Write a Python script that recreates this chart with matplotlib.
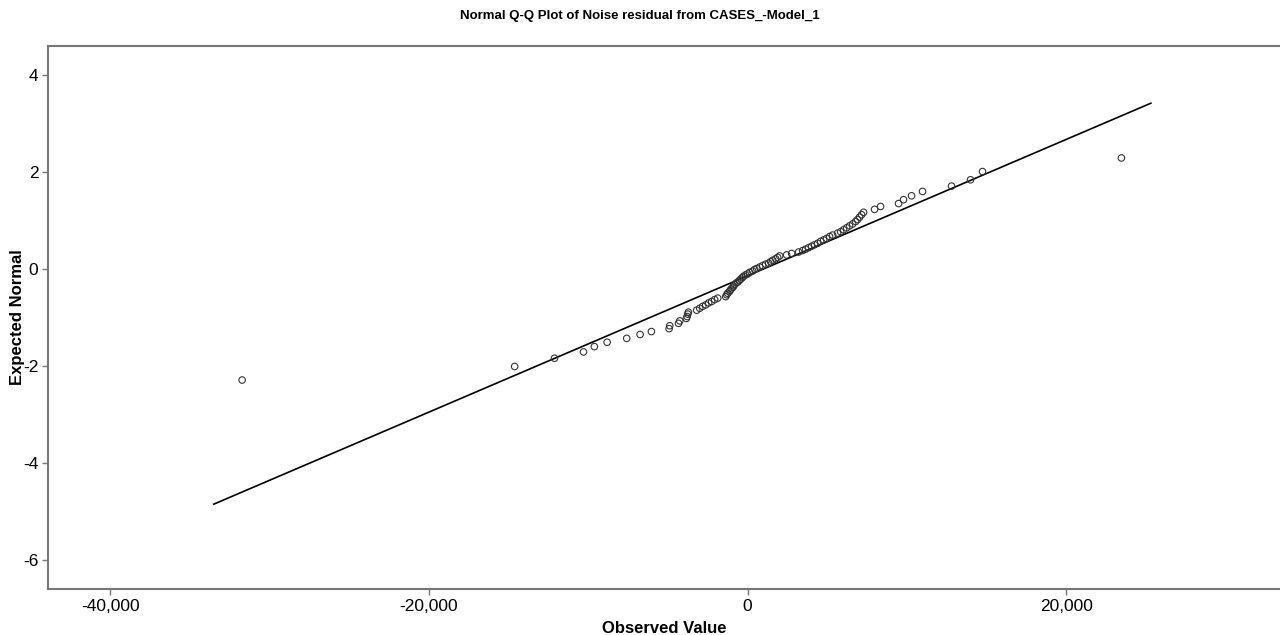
import matplotlib
matplotlib.use("Agg")
import matplotlib.pyplot as plt
from matplotlib.ticker import FuncFormatter

plt.rcParams['font.family'] = ['Liberation Sans', 'DejaVu Sans']
plt.rcParams['axes.unicode_minus'] = False

# observed residuals (sorted)
observed = [
    -31720, -14620, -12120, -10300, -9620, -8820, -7590, -6750, -6040, -4930,
    -4890, -4340, -4260, -3850, -3800, -3760, -3720, -3200, -3010, -2820,
    -2630, -2450, -2260, -2070, -1880, -1380, -1317, -1254, -1160, -1097,
    -1034, -940, -878, -815, -721, -627, -533, -439, -345, -251,
    -125, 0, 125, 314, 439, 564, 752, 940, 1129, 1317,
    1442, 1567, 1755, 1881, 2006, 2445, 2758, 3197, 3448, 3636,
    3824, 4012, 4200, 4389, 4577, 4765, 4953, 5141, 5329, 5643,
    5831, 6019, 6207, 6395, 6583, 6771, 6897, 7022, 7147, 7273,
    7962, 8339, 9467, 9781, 10283, 10972, 12791, 13982, 14735, 23450,
]

# expected normal values for each point
expected = [
    -2.29, -2.01, -1.84, -1.71, -1.60, -1.51, -1.43, -1.35, -1.29, -1.23,
    -1.17, -1.12, -1.07, -1.02, -0.98, -0.93, -0.89, -0.85, -0.81, -0.77,
    -0.74, -0.70, -0.67, -0.63, -0.60, -0.57, -0.53, -0.50, -0.47, -0.44,
    -0.41, -0.38, -0.35, -0.32, -0.29, -0.27, -0.24, -0.21, -0.18, -0.15,
    -0.12, -0.10, -0.07, -0.04, -0.01, 0.01, 0.04, 0.07, 0.10, 0.12,
    0.15, 0.18, 0.21, 0.24, 0.27, 0.29, 0.32, 0.35, 0.38, 0.41,
    0.44, 0.47, 0.50, 0.53, 0.57, 0.60, 0.63, 0.67, 0.70, 0.74,
    0.77, 0.81, 0.85, 0.89, 0.93, 0.98, 1.02, 1.07, 1.12, 1.17,
    1.23, 1.29, 1.35, 1.43, 1.51, 1.60, 1.71, 1.84, 2.01, 2.29,
]

# reference line end points
line_x = [-33500, 25300]
line_y = [-4.85, 3.42]

fig = plt.figure(figsize=(12.8, 6.35), dpi=100)
ax = fig.add_axes([0.0375, 0.0724, 0.9625, 0.8552])

ax.plot(line_x, line_y, color='black', lw=1.2, zorder=2)
ax.scatter(observed, expected, s=22, facecolors='none', edgecolors='#333333',
           linewidths=0.8, zorder=3)

ax.set_xlim(-43900, 33400)
ax.set_ylim(-6.6, 4.6)
ax.set_xticks([-40000, -20000, 0, 20000])
ax.set_yticks([-6, -4, -2, 0, 2, 4])
ax.xaxis.set_major_formatter(FuncFormatter(lambda v, p: f"{int(v):,}"))

for side in ['left', 'bottom', 'top']:
    ax.spines[side].set_color('#777777')
    ax.spines[side].set_linewidth(1.5)
ax.spines['right'].set_visible(False)
ax.tick_params(direction='out', length=4, width=1, color='#777777',
               labelsize=12.5, labelcolor='black', pad=3)

ax.set_xlabel('Observed Value', fontsize=12, fontweight='bold', labelpad=5)
ax.set_ylabel('Expected Normal', fontsize=12, fontweight='bold')
ax.yaxis.set_label_coords(-0.019, 0.5)
fig.suptitle('Normal Q-Q Plot of Noise residual from CASES_-Model_1',
             fontsize=9.5, fontweight='bold', y=0.985)

fig.savefig('out.png', dpi=100)
